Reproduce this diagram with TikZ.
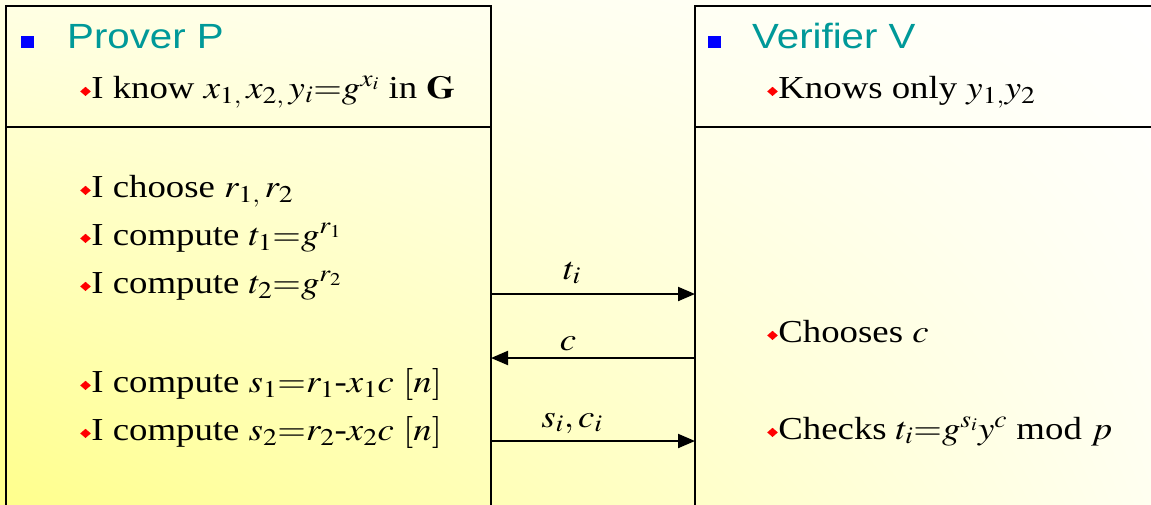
\documentclass[tikz,border=0pt]{standalone}
\usepackage{mathptmx}
\usepackage[no-math]{fontspec}
\setmainfont{Liberation Serif}
\setsansfont{Liberation Sans}
\DeclareMathSizes{32}{32}{24}{18}
\usetikzlibrary{arrows.meta,shadings}
\definecolor{teal1}{RGB}{0,153,153}
\definecolor{bgyellow}{RGB}{255,255,140}
\definecolor{bgcream}{RGB}{255,255,228}
\definecolor{bgpale}{RGB}{255,255,240}
\newcommand{\rdia}{\raisebox{2pt}{\textcolor{red}{\rotatebox{45}{\rule{6.5pt}{6.5pt}}}}\kern0.5pt}
\tikzset{
  txt/.style={anchor=base west, inner sep=0pt, font=\fontsize{32}{38}\selectfont, xscale=1.15},
  ttl/.style={anchor=base west, inner sep=0pt, font=\sffamily\fontsize{35}{40}\selectfont, text=teal1, xscale=1.15},
  lbl/.style={anchor=base, inner sep=0pt, font=\fontsize{32}{38}\selectfont, xscale=1.15},
  sq/.style={fill=blue, minimum width=13pt, minimum height=12pt, inner sep=0pt},
  boxline/.style={line width=2pt, black},
  msg/.style={line width=2pt, -{Triangle[length=17pt,width=14pt]}}
}
\begin{document}
\begin{tikzpicture}[x=1pt,y=1pt]
\useasboundingbox (0,0) rectangle (1151,-504);
\shade[lower left=bgyellow, lower right=bgpale, upper left=bgcream, upper right=white] (0,0) rectangle (1151,-504);
% boxes
\draw[boxline] (6,-510) -- (6,-6) -- (491,-6) -- (491,-510);
\draw[boxline] (695,-510) -- (695,-6) -- (1160,-6);
\draw[boxline] (6,-127) -- (491,-127);
\draw[boxline] (695,-127) -- (1160,-127);
% edge coordinates
\coordinate (p1) at (491,-294);
\coordinate (v1) at (695,-294);
\coordinate (p2) at (491,-358);
\coordinate (v2) at (695,-358);
\coordinate (p3) at (491,-441);
\coordinate (v3) at (695,-441);
% titles
\node[sq] (bp) at (27,-42) {};
\node[ttl] (tp) at (67,-48) {Prover P};
\node[sq] (bv) at (714,-42) {};
\node[ttl] (tv) at (752,-48) {Verifier V};
% prover text
\node[txt] (k) at (80,-98) {\rdia I know $x_{1,}\,x_{2,}\,y_i{=}g^{x_i}$ in $\mathbf{G}$};
\node[txt] (c1) at (80,-197) {\rdia I choose $r_{1,}\,r_2$};
\node[txt] (c2) at (80,-245) {\rdia I compute $t_1{=}g^{r_1}$};
\node[txt] (c3) at (80,-293) {\rdia I compute $t_2{=}g^{r_2}$};
\node[txt] (c4) at (80,-392) {\rdia I compute $s_1{=}r_1\mbox{-}x_1c$ $[n]$};
\node[txt] (c5) at (80,-440) {\rdia I compute $s_2{=}r_2\mbox{-}x_2c$ $[n]$};
% verifier text
\node[txt] (vk) at (767,-98) {\rdia Knows only $y_{1,}y_2$};
\node[txt] (vc) at (767,-342) {\rdia Chooses $c$};
\node[txt] (vch) at (767,-439) {\rdia Checks $t_i{=}g^{s_i}y^c$ mod $p$};
% messages
\draw[msg] (p1) -- (v1);
\draw[msg] (v2) -- (p2);
\draw[msg] (p3) -- (v3);
\node[lbl] (l1) at (572,-279) {$t_i$};
\node[lbl] (l2) at (568,-350) {$c$};
\node[lbl] (l3) at (572,-427) {$s_i,c_i$};
\end{tikzpicture}
\end{document}
